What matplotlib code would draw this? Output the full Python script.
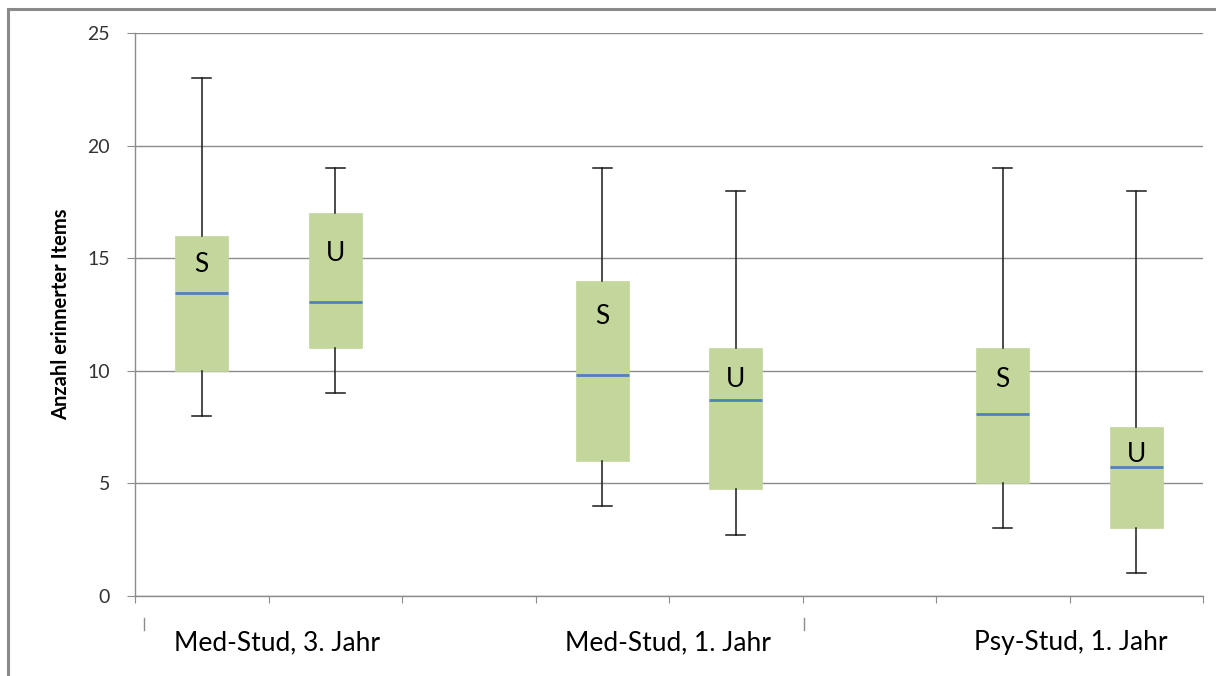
import matplotlib
matplotlib.use("Agg")
import matplotlib.pyplot as plt
import matplotlib.transforms as mtransforms
from matplotlib.patches import Rectangle

# box positions on the category slots (8 slots, 3 groups with gaps)
positions = [0, 1, 3, 4, 6, 7]
box_letters = ["S", "U", "S", "U", "S", "U"]
letter_y = [14.7, 15.2, 12.4, 9.6, 9.6, 6.3]

whisker_low = [8, 9, 4, 2.7, 3, 1]
q1 = [10, 11, 6, 4.75, 5, 3]
median = [13.45, 13.05, 9.83, 8.7, 8.07, 5.72]
q3 = [16, 17, 14, 11, 11, 7.5]
whisker_high = [23, 19, 19, 18, 19, 18]

group_labels = ["Med-Stud, 3. Jahr", "Med-Stud, 1. Jahr", "Psy-Stud, 1. Jahr"]
group_centers = [0.56, 3.49, 6.51]
separator_x = [-0.43, 4.51]

yticks = [0, 5, 10, 15, 20, 25]

BOX_COLOR = "#C3D69B"
MEDIAN_COLOR = "#4F81BD"
GRID_COLOR = "#8C8C8C"
FONT = ["Lato", "DejaVu Sans"]

plt.rcParams["font.family"] = FONT

fig = plt.figure(figsize=(12.16, 6.76), dpi=100)
ax = fig.add_axes([135 / 1216, 80 / 676, (1203 - 135) / 1216, (596 - 33) / 676])

stats = []
for i in range(len(positions)):
    stats.append({
        "whislo": whisker_low[i],
        "q1": q1[i],
        "med": median[i],
        "q3": q3[i],
        "whishi": whisker_high[i],
        "fliers": [],
    })

ax.bxp(stats, positions=positions, widths=0.4, patch_artist=True,
       showfliers=False, capwidths=0.14,
       boxprops=dict(facecolor=BOX_COLOR, edgecolor=BOX_COLOR, linewidth=0.5),
       medianprops=dict(color=MEDIAN_COLOR, linewidth=2),
       whiskerprops=dict(color="#1a1a1a", linewidth=1.1),
       capprops=dict(color="#1a1a1a", linewidth=1.1),
       manage_ticks=False, zorder=3)

for x, y, letter in zip(positions, letter_y, box_letters):
    ax.text(x, y, letter, ha="center", va="center", fontsize=19,
            color="black", zorder=5)

ax.set_xlim(-0.5, 7.5)
ax.set_ylim(0, 25)
ax.set_yticks(yticks)
ax.set_xticks([x - 0.5 for x in range(9)])
ax.set_xticklabels([])
ax.yaxis.grid(True, color=GRID_COLOR, linewidth=1)
ax.set_axisbelow(True)

for side in ["top", "right"]:
    ax.spines[side].set_visible(False)
for side in ["left", "bottom"]:
    ax.spines[side].set_color(GRID_COLOR)
    ax.spines[side].set_linewidth(1)

ax.tick_params(axis="y", length=6, color=GRID_COLOR, pad=12,
               labelsize=14, labelcolor="#333333")
ax.tick_params(axis="x", length=5, color=GRID_COLOR)

ax.set_ylabel("Anzahl erinnerter Items", fontsize=14.5, fontweight="bold",
              labelpad=12)

trans = mtransforms.blended_transform_factory(ax.transData, ax.transAxes)
for x, label in zip(group_centers, group_labels):
    ax.text(x, -0.083, label, transform=trans, ha="center", va="center",
            fontsize=19, color="black")
for x in separator_x:
    ax.plot([x, x], [-0.039, -0.060], transform=trans, color=GRID_COLOR,
            linewidth=1, clip_on=False)

# outer chart frame (Excel chart area border, cut off on right/bottom)
fig.patches.append(Rectangle((8 / 1216, -0.2), 1.2, 1.2 - 9 / 676,
                             transform=fig.transFigure, fill=False,
                             edgecolor="#8A8A8A", linewidth=2.2))

fig.savefig("out.png", dpi=100)
